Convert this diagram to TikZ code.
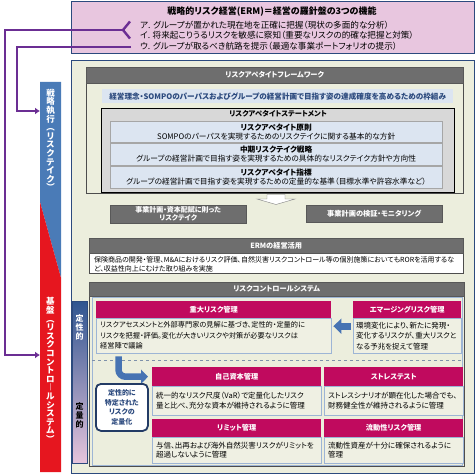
\documentclass[tikz,border=0pt]{standalone}
\usepackage{fontspec}
\setmainfont{Noto Sans CJK JP}[RawFeature=+palt]
\usetikzlibrary{arrows.meta}
\usetikzlibrary{positioning}
\definecolor{navy}{HTML}{2C4A7E}
\definecolor{ermpink}{HTML}{E8C6DF}
\definecolor{mainbg}{HTML}{ECEEDD}
\definecolor{hdrgray}{HTML}{6E6E6E}
\definecolor{paleblue}{HTML}{DCE5F1}
\definecolor{stmtgray}{HTML}{D8D8D8}
\definecolor{rcsred}{HTML}{C00A5E}
\definecolor{bodybg}{HTML}{EFF0E3}
\definecolor{edgeblue}{HTML}{9DB5D5}
\definecolor{barblue}{HTML}{4A7BB7}
\definecolor{barred}{HTML}{E6161F}
\definecolor{purp}{HTML}{6B2E93}
\definecolor{arrowblue}{HTML}{4673B3}
\definecolor{qualblue}{HTML}{2F5590}
\definecolor{quantpink}{HTML}{E6C4DC}
\tikzset{
  panel/.style 2 args = {anchor=north west, inner sep=0pt,
    minimum width=#1, minimum height=#2},% box by size, placed by corner
  hdr_g/.style = {fill=hdrgray, draw=hdrgray!80!black, text=white,
    font=\bfseries\fontsize{7.2}{8.5}\selectfont},% gray header
  hdr_r/.style = {fill=rcsred, text=white,
    font=\bfseries\fontsize{7.2}{8.5}\selectfont},% red header
  body_r/.style = {fill=bodybg, draw=edgeblue, align=left, inner xsep=4pt,
    font=\fontsize{7.5}{9.5}\selectfont},% body under red header
  ra_box/.style = {fill=paleblue, draw=gray!70, align=center,
    font=\fontsize{7.7}{8.8}\selectfont},% statement item
  vtxt/.style = {align=center, inner sep=0pt, text=white,
    font=\bfseries\fontsize{8.5}{8.6}\selectfont},% vertical label
  func/.style = {anchor=west, inner sep=0pt,
    font=\fontsize{8.6}{10}\selectfont},
  purpline/.style = {draw=purp, line width=2.4pt}
}

\begin{document}
\begin{tikzpicture}[x=1pt,y=-1pt]
\useasboundingbox (0,0) rectangle (476,476);

% ERM = 3 functions
\node[panel={403}{52}, fill=ermpink, draw=navy, line width=1.2pt] (erm) at (71,1) {};
\node[font=\bfseries\fontsize{9}{10}\selectfont] (ermtitle) at (272,12) {戦略的リスク経営(ERM)＝経営の羅針盤の3つの機能};
\node[func] (funcA) at (140,25) {ア. グループが置かれた現在地を正確に把握（現状の多面的な分析）};
\node[func] (funcB) at (140,35.5) {イ. 将来起こりうるリスクを敏感に察知（重要なリスクの的確な把握と対策）};
\node[func] (funcC) at (140,46) {ウ. グループが取るべき航路を提示（最適な事業ポートフォリオの提示）};

% left bar
\fill[barblue] (40,82) -- (61,82) -- (61,278) -- (40,202) -- cycle;
\fill[barred] (40,202) -- (61,278) -- (61,472) -- (40,472) -- cycle;
\node[panel={21}{390}] (bar) at (40,82) {};
\node[vtxt] (exec) at (50.5,140) {戦\\略\\執\\行\\︵\\リ\\ス\\ク\\テ\\イ\\ク\\︶};
\node[vtxt] (base) at (50.5,370) {基\\盤\\︵\\リ\\ス\\ク\\コ\\ン\\ト\\ロ\\︱\\ル\\シ\\ス\\テ\\ム\\︶};

% purple links
\coordinate (fromA) at (123,30);
\coordinate (turnA) at (5,355);
\coordinate (fromC) at (131,47);
\coordinate (turnC) at (17,111);
\draw[purpline] (130,21.5) -- (fromA) -- (130,38.5);
\draw[purpline, -{Latex[length=5pt,width=7pt]}] (fromA) -| (turnA) -- (turnA -| bar.west);
\draw[purpline, -{Latex[length=5pt,width=7pt]}] (fromC) -| (turnC) -- (turnC -| bar.west);

% main frame
\node[panel={403}{413}, fill=mainbg, draw=navy, line width=1.2pt] (main) at (71,60) {};

% risk appetite framework
\node[panel={377}{126}, draw=hdrgray!70!black, line width=0.8pt] (raf) at (86,67) {};
\node[panel={377}{16}, hdr_g] (rafhead) at (86,67) {リスクアペタイトフレームワーク};
\node[panel={351}{14}, fill=paleblue, text=navy, font=\bfseries\fontsize{7.6}{8}\selectfont] (purpose) at (102,89) {経営理念・SOMPOのパーパスおよびグループの経営計画で目指す姿の達成確度を高めるための枠組み};
\node[panel={353}{84}, fill=stmtgray, draw=black, line width=1.2pt] (stmt) at (101,108) {};
\node[below=2pt of stmt.north, inner sep=0pt, font=\bfseries\fontsize{7.2}{8}\selectfont] (stmttitle) {リスクアペタイトステートメント};
\node[panel={332}{21}, ra_box] (ra1) at (110,121) {\textbf{リスクアペタイト原則}\\SOMPOのパーパスを実現するためのリスクテイクに関する基本的な方針};
\node[panel={332}{22}, ra_box] (ra2) at (110,143) {\textbf{中期リスクテイク戦略}\\グループの経営計画で目指す姿を実現するための具体的なリスクテイク方針や方向性};
\node[panel={332}{22}, ra_box] (ra3) at (110,166) {\textbf{リスクアペタイト指標}\\グループの経営計画で目指す姿を実現するための定量的な基準（目標水準や許容水準など）};

\draw[fill=white, draw=gray] (267,194.5) -- (285,194.5) -- (285,199) -- (295,199) -- (276,204.5) -- (257,199) -- (267,199) -- cycle;

\node[panel={136}{18}, hdr_g, align=center, font=\bfseries\fontsize{7}{8}\selectfont] (take) at (110,205) {事業計画・資本配賦に則った\\リスクテイク};
\node[panel={136}{17}, hdr_g] (monitor) at (306,205) {事業計画の検証・モニタリング};

% ERM use
\node[panel={374}{35}, fill=white, draw=hdrgray!70!black] (ermuse) at (89,238) {};
\node[panel={374}{15}, hdr_g] (ermhead) at (89,238) {ERMの経営活用};
\node[anchor=north west, inner sep=0pt, align=left, font=\fontsize{7}{8.5}\selectfont] (ermtext) at (94,256.5) {保険商品の開発・管理、M\&Aにおけるリスク評価、自然災害リスクコントロール等の個別施策においてもRORを活用するな\\ど、収益性向上にむけた取り組みを実施};

% risk control system
\node[panel={375}{184}, draw=hdrgray!70!black] (rcs) at (89,282) {};
\node[panel={375}{14}, hdr_g] (rcshead) at (89,282) {リスクコントロールシステム};
\node[panel={370}{168}, draw=edgeblue, line width=0.8pt] (rcsin) at (92,297) {};
\draw[dashed, draw=edgeblue!80!black, line width=0.8pt] (rcsin.west |- 0,360) -- (rcsin.east |- 0,360);

\shadedraw[top color=qualblue, middle color=white, bottom color=quantpink, draw=navy] (72,301) rectangle (87,463);
\node[vtxt, font=\bfseries\fontsize{8}{9}\selectfont] (qual) at (79.5,327) {定\\性\\的};
\node[vtxt, font=\bfseries\fontsize{8}{9}\selectfont, text=black] (quant) at (79.5,415) {定\\量\\的};

\node[panel={235}{17}, hdr_r] (majorhd) at (96,301) {重大リスク管理};
\node[panel={235}{35}, body_r, text width=227, font=\fontsize{7.2}{10.5}\selectfont] (majorbd) at (96,318) {リスクアセスメントと外部専門家の見解に基づき、定性的・定量的に\\リスクを把握・評価。変化が大きいリスクや対策が必要なリスクは\\経営陣で議論};
\node[panel={108}{17}, hdr_r] (emerhd) at (353,301) {エマージングリスク管理};
\node[panel={108}{35}, body_r, text width=102, inner xsep=3pt, font=\fontsize{7.5}{10.5}\selectfont] (emerbd) at (353,318) {環境変化により、新たに発現・\\変化するリスクが、重大リスクと\\なる予兆を捉えて管理};
\draw[arrowblue, line width=7pt, -{Triangle[length=8pt,width=15pt]}, shorten <=2pt, shorten >=2pt] ([yshift=9.5pt]emerbd.west) -- ([yshift=9.5pt]majorbd.east);

\node[panel={169}{19}, hdr_r] (caphd) at (152,367) {自己資本管理};
\node[panel={169}{29}, body_r, text width=161] (capbd) at (152,386) {統一的なリスク尺度（VaR）で定量化したリスク\\量と比べ、充分な資本が維持されるように管理};
\node[panel={139}{19}, hdr_r] (stresshd) at (324,367) {ストレステスト};
\node[panel={139}{29}, body_r, text width=131] (stressbd) at (324,386) {ストレスシナリオが顕在化した場合でも、\\財務健全性が維持されるように管理};
\node[panel={169}{18}, hdr_r] (limithd) at (152,419) {リミット管理};
\node[panel={169}{26}, body_r, text width=161] (limitbd) at (152,437) {与信、出再および海外自然災害リスクがリミットを\\超過しないように管理};
\node[panel={139}{18}, hdr_r] (liqhd) at (324,419) {流動性リスク管理};
\node[panel={139}{26}, body_r, text width=131] (liqbd) at (324,437) {流動性資産が十分に確保されるように\\管理};

\draw[arrowblue, line width=6.5pt, rounded corners=7pt, -{Triangle[length=7pt,width=14pt]}, shorten <=3pt, shorten >=4pt] ([xshift=22.5pt]majorbd.south west) |- (caphd.west);
\node[panel={52}{47}, rounded corners=5pt, fill=white, draw=navy!80!black, line width=1.8pt, text=navy, align=center, font=\bfseries\fontsize{7}{9.5}\selectfont] (quantify) at (95,383) {定性的に\\特定された\\リスクの\\定量化};
\end{tikzpicture}
\end{document}
